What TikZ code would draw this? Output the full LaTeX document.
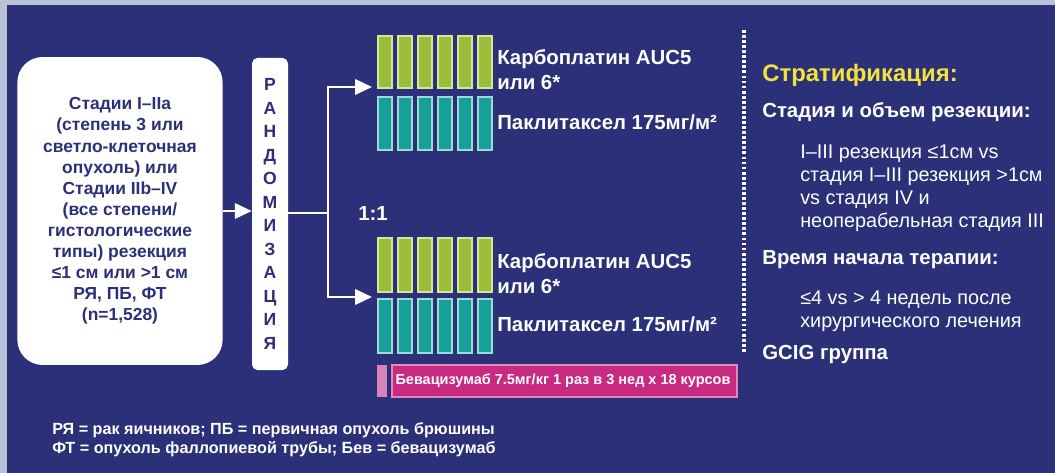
\documentclass[tikz,border=0pt]{standalone}
\usepackage{fontspec}
\setmainfont{Liberation Sans}
\usepackage{tikz}
\usetikzlibrary{arrows.meta, calc}
\usepackage{xcolor}
\definecolor{fon}{HTML}{2B3078}
\definecolor{kraj}{HTML}{BAC0D7}
\definecolor{salat}{HTML}{9BBD3A}
\definecolor{salatsvet}{HTML}{D4E79C}
\definecolor{biruza}{HTML}{17A099}
\definecolor{biruzasvet}{HTML}{9CDAD5}
\definecolor{malina}{HTML}{C72A80}
\definecolor{rozov}{HTML}{D783BD}
\definecolor{zhelt}{HTML}{F2E33C}

\tikzset{
  zel/.style={fill=salat, draw=salatsvet, line width=1.2pt},
  bir/.style={fill=biruza, draw=biruzasvet, line width=1.2pt},
  liniya/.style={draw=white, line width=1.5pt},
  strel/.style={liniya, -{Triangle[length=12pt,width=11pt]}},
  belyj/.style={text=white, inner sep=0pt, align=left,
    font=\bfseries\fontsize{14.5}{17.8}\selectfont},
  prost/.style={belyj, font=\fontsize{14.1}{16.4}\selectfont},
}

\begin{document}
\begin{tikzpicture}[x=0.025cm, y=-0.025cm]
    \useasboundingbox (0,0) rectangle (1055,473);
    % Фон
    \fill[kraj] (0,0) rectangle (1055,473);
    \fill[fon] (7,5) rectangle (1055,473);
    % Пациенты
    \node[fill=white, rounded corners=18pt, minimum width=146pt, minimum height=219pt,
          text=fon, align=center, font=\bfseries\fontsize{12.4}{15}\selectfont]
        (popul) at (120,211) {Стадии I–IIa\\(степень 3 или\\светло-клеточная\\опухоль) или\\Стадии IIb–IV\\(все степени/\\гистологические\\типы) резекция\\≤1 см или >1 см\\РЯ, ПБ, ФТ\\(n=1,528)};
    % Рандомизация
    \node[fill=white, rounded corners=4pt, minimum width=25.6pt, minimum height=222pt,
          text=fon, align=center, font=\bfseries\fontsize{12.5}{16.7}\selectfont]
        (rand) at (270,214) {Р\\А\\Н\\Д\\О\\М\\И\\З\\А\\Ц\\И\\Я};
    \draw[strel] (popul.east) -- (popul.east -| rand.west);
    % Ветви
    \coordinate (razv) at (328,213);
    \coordinate (arm1) at (372,87);
    \coordinate (arm2) at (372,297);
    \draw[liniya] (razv -| rand.east) -- (razv);
    \draw[strel] (razv) |- (arm1);
    \draw[strel] (razv) |- (arm2);
    \node[belyj] (ratio) at (373,213) {1:1};
    % Курсы
    \foreach \i in {0,...,5} {
        \draw[zel] (378+20*\i,36) rectangle (392+20*\i,88);
        \draw[bir] (378+20*\i,97) rectangle (392+20*\i,150);
        \draw[zel] (378+20*\i,238) rectangle (392+20*\i,292);
        \draw[bir] (378+20*\i,299) rectangle (392+20*\i,353);
    }
    \node[belyj, anchor=west] (karbo1) at (497,70) {Карбоплатин AUC5\\или 6*};
    \node[belyj, anchor=west] (pakli1) at (497,122) {Паклитаксел 175мг/м²};
    \node[belyj, anchor=west] (karbo2) at (497,274) {Карбоплатин AUC5\\или 6*};
    \node[belyj, anchor=west] (pakli2) at (497,324) {Паклитаксел 175мг/м²};
    % Бевацизумаб
    \fill[rozov] (377,365) rectangle (387,397);
    \draw[fill=malina, draw=malina!55!white, line width=1pt] (392,365) rectangle (737,397);
    \node[text=white, font=\bfseries\fontsize{10.3}{12}\selectfont]
        (bev) at (563,381) {Бевацизумаб 7.5мг/кг 1 раз в 3 нед x 18 курсов};
    % Стратификация
    \draw[white, line width=2.2pt, dash pattern=on 2pt off 1.6pt] (744,30) -- (744,352);
    \node[belyj, anchor=west, text=zhelt, font=\bfseries\fontsize{17}{20}\selectfont]
        (strat) at (762,75) {Стратификация:};
    \node[belyj, anchor=west] (stad) at (762,112) {Стадия и объем резекции:};
    \node[prost, anchor=west]
        (stadtxt) at (800,188) {I–III резекция ≤1см vs\\стадия I–III резекция >1см\\vs стадия IV и\\неоперабельная стадия III};
    \node[belyj, anchor=west] (vrem) at (762,260) {Время начала терапии:};
    \node[prost, anchor=west]
        (vremtxt) at (800,311) {≤4 vs > 4 недель после\\хирургического лечения};
    \node[belyj, anchor=west] (gcig) at (762,354) {GCIG группа};
    % Сноска
    \node[belyj, anchor=west, font=\bfseries\fontsize{11.5}{13.8}\selectfont]
        (snoska) at (52,440) {РЯ = рак яичников; ПБ = первичная опухоль брюшины\\ФТ = опухоль фаллопиевой трубы; Бев = бевацизумаб};
\end{tikzpicture}
\end{document}
